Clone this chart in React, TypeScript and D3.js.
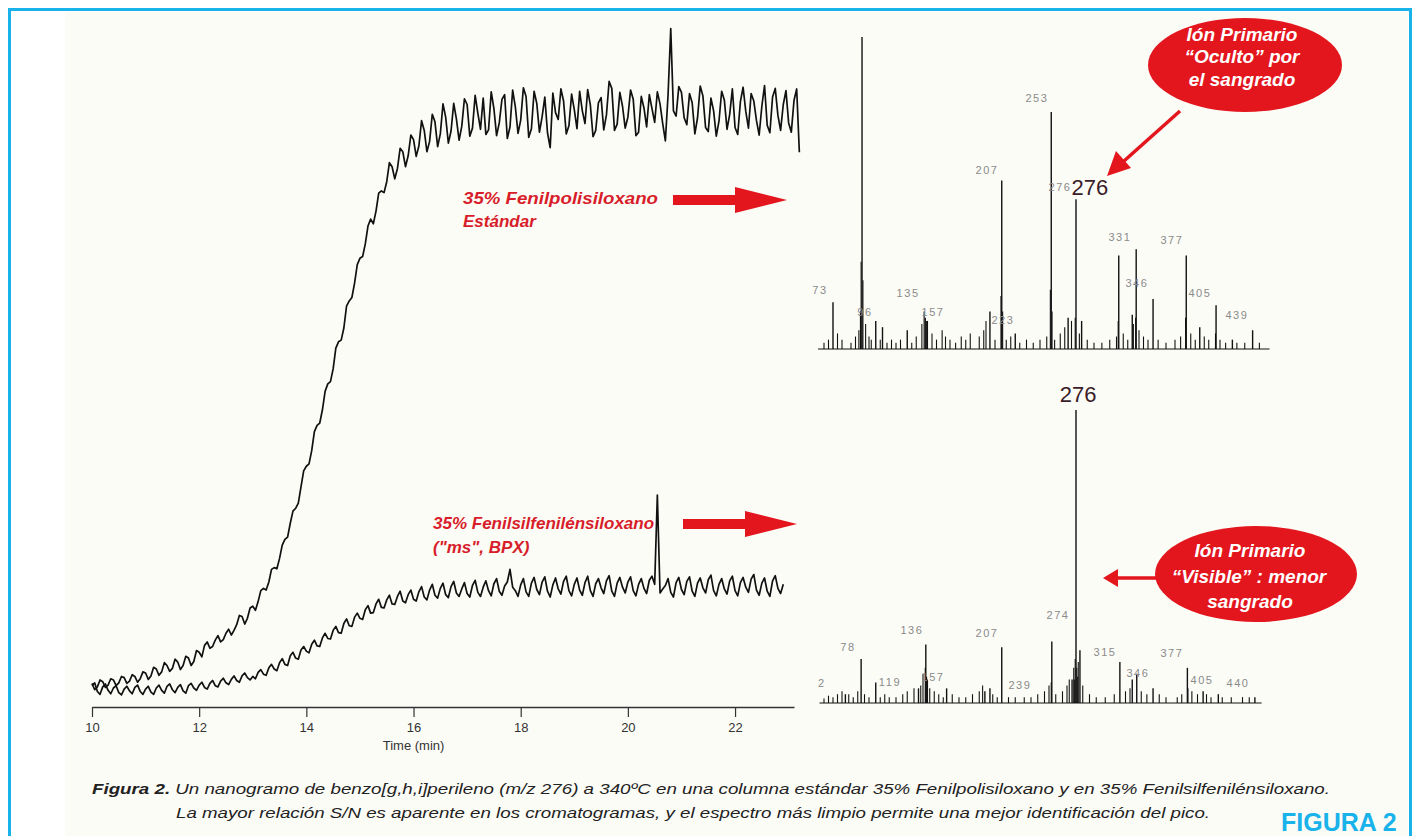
import React, { useRef, useEffect } from 'react';
import * as d3 from 'd3';

// chromatograms: one reading every 0.05 min starting at 10 min
const T_START = 10;
const T_STEP = 0.05;

// 35% Fenilpolisiloxano estándar (relative signal)
const standardTrace = [
  0.8, -0.3, 0.2, 1.4, 1.1, 0.1, 0.5, 1.6, 1.4, 0.4, 0.9, 2.0, 1.8, 0.8, 1.2, 2.3, 2.0, 1.0, 1.6, 2.8,
  2.6, 1.5, 2.1, 3.6, 3.3, 2.2, 2.8, 4.4, 3.9, 2.9, 3.4, 5.0, 4.5, 3.2, 3.9, 5.5, 5.2, 3.9, 4.6, 6.5,
  6.2, 5.4, 7.4, 8.0, 6.9, 7.2, 8.3, 9.1, 8.0, 8.4, 9.5, 10.2, 9.2, 10.0, 11.0, 12.6, 12.4, 11.1, 12.1, 13.9,
  14.2, 13.5, 15.0, 16.9, 17.3, 17.0, 18.4, 20.6, 20.9, 20.7, 22.5, 24.8, 25.8, 26.2, 28.6, 30.7, 31.2, 32.1, 34.9, 37.7,
  38.5, 38.9, 41.2, 44.5, 45.6, 46.0, 48.3, 51.5, 52.8, 53.2, 55.4, 59.0, 60.1, 60.4, 62.5, 66.3, 67.2, 67.8, 70.3, 73.5,
  74.6, 74.9, 77.1, 80.2, 81.4, 80.6, 82.8, 85.9, 86.3, 86.0, 87.9, 91.2, 90.5, 88.4, 90.2, 93.7, 93.1, 90.5, 92.4, 96.0,
  95.2, 92.3, 94.1, 98.5, 96.8, 93.1, 94.9, 99.6, 98.3, 94.0, 96.2, 101.4, 99.1, 94.6, 96.7, 101.5, 98.8, 95.1, 97.5, 102.3,
  101.3, 95.8, 97.2, 102.9, 99.8, 97.0, 102.4, 96.1, 96.9, 103.5, 100.6, 95.9, 98.1, 102.2, 103.0, 95.4, 97.4, 103.8, 100.9, 96.3,
  98.6, 104.2, 102.7, 95.6, 97.1, 103.6, 101.5, 96.5, 99.2, 102.6, 96.4, 93.8, 103.3, 99.9, 98.7, 104.0, 101.9, 96.2, 97.6, 103.1,
  100.4, 97.1, 103.6, 100.2, 98.0, 103.9, 101.2, 95.7, 96.8, 101.6, 102.5, 96.9, 99.5, 105.3, 104.1, 96.8, 97.9, 103.4, 101.0, 97.2,
  99.1, 103.8, 102.2, 95.9, 96.5, 102.7, 100.7, 97.4, 103.0, 100.6, 98.2, 103.5, 101.4, 98.0, 95.0, 103.0, 114.5, 100.2, 99.3, 104.4,
  103.4, 99.0, 97.8, 103.2, 101.6, 96.2, 99.0, 104.5, 102.8, 97.3, 96.6, 102.4, 100.2, 95.8, 98.4, 103.6, 102.1, 97.0, 99.6, 104.0,
  97.3, 96.1, 101.8, 104.3, 100.1, 97.2, 103.2, 101.9, 98.5, 96.0, 101.0, 104.6, 97.7, 96.4, 102.6, 104.1, 99.4, 96.8, 101.3, 103.7,
  98.1, 96.5, 102.0, 104.0, 93.0,
];

// 35% Fenilsilfenilénsiloxano ("ms", BPX)
const msTrace = [
  0.4, 0.9, -0.6, -1.1, 0.2, 0.7, -0.4, -1.0, 0.0, 0.4, -0.8, -1.2, -0.2, 0.3, -0.5, -1.0, 0.1, 0.5, -0.6, -1.1,
  -0.2, 0.3, -0.7, -1.1, 0.0, 0.5, -0.4, -0.9, 0.3, 0.7, -0.3, -0.8, 0.1, 0.6, -0.5, -0.9, 0.4, 0.8, 0.0, -0.4,
  0.5, 1.0, 0.1, -0.2, 0.8, 1.3, 0.4, 0.2, 1.2, 1.7, 0.9, 0.6, 1.5, 2.1, 1.3, 1.0, 2.1, 2.6, 1.8, 1.4,
  2.0, 1.6, 2.7, 3.2, 2.4, 2.2, 3.5, 4.1, 3.3, 3.0, 4.4, 5.1, 4.1, 3.9, 5.6, 6.2, 5.2, 5.0, 6.6, 7.2,
  6.4, 6.1, 7.6, 8.3, 7.3, 7.2, 8.7, 9.5, 8.6, 8.5, 10.0, 10.7, 9.6, 9.5, 11.2, 12.0, 10.8, 10.7, 12.3, 13.0,
  12.1, 11.9, 13.6, 14.3, 13.0, 13.1, 14.6, 15.4, 14.0, 13.9, 15.3, 16.1, 14.6, 14.5, 15.9, 16.8, 15.1, 14.8, 16.2, 17.0,
  15.4, 15.1, 16.7, 17.6, 15.8, 15.3, 17.0, 18.0, 16.1, 15.6, 17.3, 18.2, 16.2, 15.7, 17.6, 18.5, 16.5, 15.9, 17.2, 18.3,
  16.4, 15.8, 17.8, 18.7, 16.6, 15.9, 17.5, 18.6, 16.9, 16.0, 18.1, 19.0, 16.8, 16.1, 17.7, 18.4, 20.6, 17.5, 16.9, 15.9,
  17.9, 19.0, 16.7, 15.9, 18.2, 19.2, 17.1, 16.2, 18.4, 19.3, 16.8, 15.8, 17.9, 19.1, 17.2, 16.3, 18.5, 19.4, 16.9, 16.0,
  18.0, 19.1, 17.0, 16.1, 18.3, 19.4, 16.9, 15.9, 18.1, 19.0, 17.4, 16.4, 18.6, 19.5, 16.8, 15.9, 18.2, 19.2, 17.5, 16.5,
  18.4, 19.3, 16.9, 16.0, 18.0, 19.0, 17.3, 16.4, 18.7, 19.4, 18.0, 33.5, 16.5, 17.2, 17.8, 19.0, 16.6, 15.8, 18.3, 19.2,
  17.1, 16.2, 18.5, 19.3, 16.8, 15.9, 18.2, 19.1, 17.4, 16.5, 18.8, 19.6, 16.9, 16.0, 18.0, 19.0, 17.2, 16.3, 18.6, 19.4,
  16.9, 16.0, 18.3, 19.2, 17.5, 16.6, 18.9, 19.7, 17.0, 16.1, 18.2, 19.1, 16.8, 15.9, 18.6, 19.5, 17.3, 16.4, 18.0,
];

const timeTicks = [10, 12, 14, 16, 18, 20, 22];

// mass spectra: [m/z position, % of base peak]
const stdPeaks: [number, number][] = [
  [66, 15], [91.8, 100], [104, 9], [110, 7], [132, 6], [148, 10], [205.5, 12],
  [216, 54], [228, 5], [260, 76], [275, 10], [282, 48], [287, 9], [320, 30],
  [332, 11], [335.5, 32], [350.5, 16], [380, 30], [392, 7], [406.5, 14],
  [421, 3], [439, 6],
];
const stdMinor: [number, number][] = [
  [58, 2], [62, 3], [70, 5], [74, 3], [82, 2], [86, 4], [89, 6], [90.4, 12], [91, 28],
  [92.6, 22], [95, 8], [98, 4], [100, 3], [108, 3], [114, 2], [118, 3], [122, 2],
  [126, 3], [136, 2], [140, 4], [145, 8], [147, 12], [149, 9], [150, 9], [154, 5],
  [158, 3], [163, 6], [166, 4], [170, 3], [175, 2], [180, 4], [184, 3], [188, 5],
  [196, 4], [200, 6], [202, 9], [210, 3], [215.3, 17], [216.8, 12], [220, 3],
  [224, 4], [232, 2], [238, 3], [244, 2], [250, 3], [256, 4], [259.2, 19],
  [260.7, 12], [263, 3], [268, 5], [272, 7], [278, 9], [281.3, 10], [285, 5],
  [292, 3], [298, 2], [305, 2], [312, 3], [318, 4], [319.5, 9], [324, 5], [328, 3],
  [333, 8], [335, 10], [338, 6], [342, 4], [346, 3], [355, 3], [362, 2], [370, 3],
  [375, 4], [379.4, 10], [384, 5], [388, 3], [396, 4], [400, 3], [406, 5],
  [410, 3], [415, 2], [425, 2], [432, 2], [445, 2],
];
const stdLabels: { text: string; mz: number; pct: number }[] = [
  { text: '73', mz: 54.4, pct: 18.9 },
  { text: '96', mz: 94.4, pct: 11.9 },
  { text: '135', mz: 132.7, pct: 17.9 },
  { text: '157', mz: 154.9, pct: 11.9 },
  { text: '207', mz: 202.9, pct: 57.4 },
  { text: '223', mz: 217.1, pct: 9.3 },
  { text: '253', mz: 247.3, pct: 80.4 },
  { text: '276', mz: 267.8, pct: 51.9 },
  { text: '331', mz: 321.1, pct: 35.9 },
  { text: '346', mz: 336.2, pct: 21.2 },
  { text: '377', mz: 367.3, pct: 34.9 },
  { text: '405', mz: 392.2, pct: 17.9 },
  { text: '439', mz: 425.1, pct: 10.9 },
];

const msPeaks: [number, number][] = [
  [77, 3], [91, 15], [104, 7], [142, 5], [148.5, 20], [167, 5], [201, 4],
  [205.5, 5], [216, 19], [260.5, 21], [278.5, 8], [282, 100], [285.5, 18],
  [321, 14], [332, 8], [336, 10], [350.5, 5], [381, 12], [395, 4], [408.5, 3],
  [441, 2],
];
const msMinor: [number, number][] = [
  [58, 1.5], [62, 2.5], [66, 2], [70, 3], [74, 4], [80, 3], [84, 2], [88, 4],
  [94, 3], [98, 2], [108, 2], [112, 3], [116, 2], [122, 2], [128, 3], [132, 4],
  [138, 5], [144, 6], [146, 10], [148, 12], [149.2, 9], [150, 8], [152, 5],
  [156, 4], [160, 3], [164, 2], [172, 3], [178, 2], [184, 2], [190, 3], [196, 4],
  [199, 6], [208, 3], [212, 2], [222, 2], [228, 2], [236, 2], [242, 2], [248, 3],
  [254, 4], [258, 6], [260, 7], [264, 3], [270, 4], [274, 6], [276, 8], [280, 12],
  [280.5, 8], [281.3, 15], [282.7, 12], [283.5, 9], [284, 14], [288, 6], [294, 3],
  [300, 2], [308, 2], [316, 3], [326, 4], [330, 5], [340, 4], [345, 3], [356, 3],
  [362, 2], [372, 2], [376, 3], [381.5, 5], [385, 4], [390, 3], [398, 3],
  [402, 2], [412, 2], [420, 2], [430, 2], [436, 2],
];
const msLabels: { text: string; mz: number; pct: number }[] = [
  { text: '2', mz: 56.2, pct: 6.8 },
  { text: '78', mz: 79.3, pct: 19.1 },
  { text: '119', mz: 116.7, pct: 7.2 },
  { text: '136', mz: 136.2, pct: 24.9 },
  { text: '157', mz: 154.9, pct: 8.9 },
  { text: '207', mz: 202.9, pct: 23.9 },
  { text: '239', mz: 232.2, pct: 6.1 },
  { text: '274', mz: 266, pct: 30 },
  { text: '315', mz: 307.8, pct: 17.4 },
  { text: '346', mz: 337.1, pct: 10.2 },
  { text: '377', mz: 367.3, pct: 17.1 },
  { text: '405', mz: 394, pct: 7.8 },
  { text: '440', mz: 426, pct: 6.8 },
];

const RED = '#e3151d';
const TXT_RED = '#d81d2a';
const BLUE = '#1ab2ea';
const FONT = '"Liberation Sans", Arial, sans-serif';

function Spectrum({ peaks, minor, labels, yScale, mzScale, span, big }: any) {
  const base = yScale(0);
  return (
    <g>
      <line x1={mzScale(span[0])} x2={mzScale(span[1])} y1={base} y2={base} stroke="#111" strokeWidth={1.2} />
      {minor.map((d: [number, number], i: number) => (
        <line key={'m' + i} x1={mzScale(d[0])} x2={mzScale(d[0])} y1={base} y2={yScale(d[1])} stroke="#111" strokeWidth={1.1} />
      ))}
      {peaks.map((d: [number, number], i: number) => (
        <line key={'p' + i} x1={mzScale(d[0])} x2={mzScale(d[0])} y1={base} y2={yScale(d[1])} stroke="#111" strokeWidth={1.4} />
      ))}
      {labels.map((d: any, i: number) => (
        <text key={'l' + i} x={mzScale(d.mz)} y={yScale(d.pct)} textAnchor="middle" dominantBaseline="central"
          fontFamily={FONT} fontSize={11} letterSpacing={1.6} fill="#8a8a8a">{d.text}</text>
      ))}
      <text x={mzScale(big.mz)} y={yScale(big.pct)} textAnchor="middle" fontFamily={FONT} fontSize={22} fill="#3a1d28">276</text>
    </g>
  );
}

export default function App() {
  const axisRef = useRef<SVGGElement>(null);

  const x = d3.scaleLinear().domain([10, 23.1]).range([92, 794]);
  const y = d3.scaleLinear().domain([0, 100]).range([688, 112]);
  const line = d3.line<number>()
    .x((_, i) => x(T_START + i * T_STEP))
    .y(d => y(d));

  const mzScale = d3.scaleLinear().domain([50, 450]).range([815, 1265]);
  const stdY = d3.scaleLinear().domain([0, 100]).range([349, 37]);
  const msY = d3.scaleLinear().domain([0, 100]).range([703, 410]);

  useEffect(() => {
    const g = d3.select(axisRef.current);
    g.selectAll('*').remove();
    g.call(d3.axisBottom(x).tickValues(timeTicks).tickSize(10).tickSizeOuter(0).tickPadding(6) as any);
    g.select('.domain').attr('stroke', '#333').attr('stroke-width', 1.4);
    g.selectAll('.tick line').attr('stroke', '#333').attr('stroke-width', 1.2);
    g.selectAll('.tick text').attr('font-family', FONT).attr('font-size', 13).attr('fill', '#333');
  }, []);

  return (
    <svg width={1418} height={836} style={{ position: 'absolute', left: 0, top: 0, background: '#fff' }}>
      <rect x={0} y={0} width={1418} height={836} fill="#fff" />
      <rect x={65} y={12} width={1343} height={824} fill="#fcfcf7" />
      {/* blue frame */}
      <path d="M9.5,840 V9.5 H1410.5 V840" fill="none" stroke={BLUE} strokeWidth={3} />

      {/* chromatograms */}
      <path d={line(standardTrace) || ''} fill="none" stroke="#111" strokeWidth={1.7} strokeLinejoin="round" />
      <path d={line(msTrace) || ''} fill="none" stroke="#111" strokeWidth={1.7} strokeLinejoin="round" />
      <g ref={axisRef} transform="translate(0,707)" />
      <text x={x(16)} y={750} textAnchor="middle" fontFamily={FONT} fontSize={13} fill="#333">Time (min)</text>

      {/* column labels with arrows */}
      <g fontFamily={FONT} fontSize={17} fontWeight="bold" fontStyle="italic" fill={TXT_RED}>
        <text x={463} y={204} textLength={195} lengthAdjust="spacingAndGlyphs">35% Fenilpolisiloxano</text>
        <text x={463} y={227}>Estándar</text>
        <text x={433} y={529}>35% Fenilsilfenilénsiloxano</text>
        <text x={433} y={553}>("ms", BPX)</text>
      </g>
      <polygon points="673,195 735,195 735,187 787,200 735,213 735,205 673,205" fill={RED} />
      <polygon points="683,519 745,519 745,511 797,524 745,537 745,529 683,529" fill={RED} />

      {/* mass spectra */}
      <Spectrum peaks={stdPeaks} minor={stdMinor} labels={stdLabels} yScale={stdY} mzScale={mzScale}
        span={[52.7, 454]} big={{ mz: 294.4, pct: 49.4 }} />
      <Spectrum peaks={msPeaks} minor={msMinor} labels={msLabels} yScale={msY} mzScale={mzScale}
        span={[54, 447]} big={{ mz: 283.8, pct: 102.7 }} />

      {/* callouts */}
      <line x1={1180} y1={111} x2={1124} y2={161} stroke={RED} strokeWidth={3.5} />
      <polygon points="1107,176 1116,151 1131,168" fill={RED} />
      <ellipse cx={1245} cy={65} rx={97} ry={47} fill={RED} />
      <g fontFamily={FONT} fontSize={19} fontWeight="bold" fontStyle="italic" fill="#fff" textAnchor="middle">
        <text x={1242} y={41}>Ión Primario</text>
        <text x={1242} y={63}>“Oculto” por</text>
        <text x={1242} y={86}>el sangrado</text>
      </g>

      <line x1={1160} y1={578} x2={1115} y2={578} stroke={RED} strokeWidth={3.5} />
      <polygon points="1103,578 1118,569 1118,587" fill={RED} />
      <ellipse cx={1256} cy={574} rx={101} ry={48} fill={RED} />
      <g fontFamily={FONT} fontSize={19} fontWeight="bold" fontStyle="italic" fill="#fff" textAnchor="middle">
        <text x={1250} y={557}>Ión Primario</text>
        <text x={1249} y={583}>“Visible” : menor</text>
        <text x={1250} y={608}>sangrado</text>
      </g>

      {/* caption */}
      <text x={92} y={794} fontFamily={FONT} fontSize={15} fontStyle="italic" fill="#222"
        textLength={1238} lengthAdjust="spacingAndGlyphs">
        <tspan fontWeight="bold">Figura 2.</tspan> Un nanogramo de benzo[g,h,i]perileno (m/z 276) a 340ºC en una columna estándar 35% Fenilpolisiloxano y en 35% Fenilsilfenilénsiloxano.
      </text>
      <text x={176} y={818} fontFamily={FONT} fontSize={15} fontStyle="italic" fill="#222"
        textLength={1034} lengthAdjust="spacingAndGlyphs">
        La mayor relación S/N es aparente en los cromatogramas, y el espectro más limpio permite una mejor identificación del pico.
      </text>
      <text x={1281} y={831} fontFamily={FONT} fontSize={25} fontWeight="bold" fill={BLUE}>FIGURA 2</text>
    </svg>
  );
}
